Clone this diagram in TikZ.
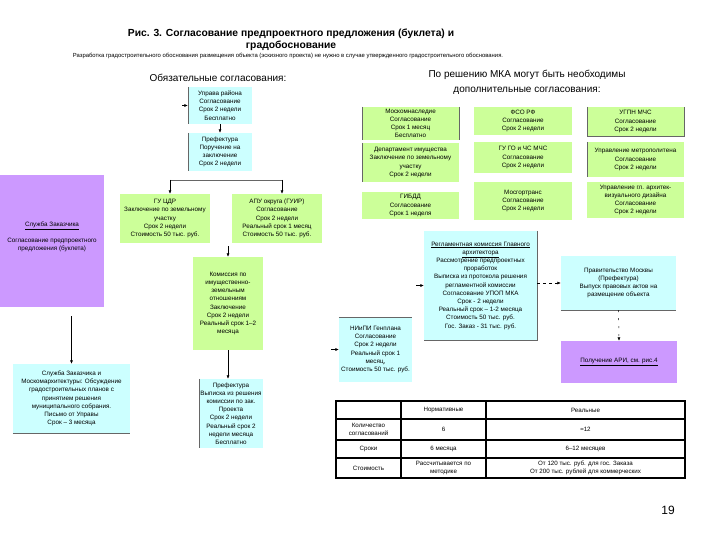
\documentclass[tikz,border=0pt]{standalone}
\usepackage{fontspec}
\setmainfont{Liberation Sans}
\usetikzlibrary{arrows.meta}
\definecolor{cy}{HTML}{CCFFFF}
\definecolor{gr}{HTML}{CCFF99}
\definecolor{pu}{HTML}{CC99FF}
\begin{document}
\begin{tikzpicture}[x=1pt,y=-1pt,
  box/.style={inner sep=1pt, align=center, font=\fontsize{6.3}{8.2}\selectfont},
  cbox/.style={box, fill=cy},
  gbox/.style={box, fill=gr},
  pbox/.style={box, fill=pu},
  arr/.style={-{Latex[length=3.5pt,width=3pt]}, line width=0.5pt},
  edge/.style={draw=black!60, line width=0.6pt},
  lbl/.style={inner sep=0pt, align=center},
  cell/.style={inner sep=0pt, align=center, font=\fontsize{6.2}{7.6}\selectfont}]
\useasboundingbox (0,0) rectangle (720,540);
\fill[white] (0,0) rectangle (720,540);

% titles
\node[lbl, font=\fontsize{10.3}{12}\bfseries] (t1) at (291,34) {Рис. 3. Согласование предпроектного предложения (буклета) и};
\node[lbl, font=\fontsize{10.3}{12}\bfseries] (t2) at (291,46) {градобоснование};
\node[lbl, font=\fontsize{5.9}{7}\selectfont] (t3) at (288,56) {Разработка градостроительного обоснования размещения объекта (эскизного проекта) не нужно в случае утвержденного градостроительного обоснования.};
\node[lbl, font=\fontsize{10}{11}\selectfont] (ob) at (218,78) {Обязательные согласования:};
\node[lbl, font=\fontsize{10}{14.5}\selectfont] (po) at (527,82.5) {По решению МКА могут быть необходимы\\дополнительные согласования:};
\node[lbl, font=\fontsize{12}{14}\selectfont] (pg) at (668,510) {19};

% left chain
\node[cbox, minimum width=64, minimum height=37] (A) at (220,105.5) {Управа района\\Согласование\\Срок 2 недели\\Бесплатно};
\node[cbox, minimum width=64, minimum height=38] (B) at (220,152) {Префектура\\Поручение на\\заключение\\Срок 2 недели};
\node[gbox, minimum width=90, minimum height=49] (C) at (165,218.5) {ГУ ЦДР\\Заключение по земельному\\участку\\Срок 2 недели\\Стоимость 50 тыс. руб.};
\node[gbox, minimum width=90, minimum height=49] (D) at (277,218.5) {АПУ округа (ГУИР)\\Согласование\\Срок 2 недели\\Реальный срок 1 месяц\\Стоимость 50 тыс. руб.};
\node[gbox, minimum width=70, minimum height=93] (E) at (228,303.5) {Комиссия по\\имущественно-\\земельным\\отношениям\\Заключение\\Срок 2 недели\\Реальный срок 1–2\\месяца};
\node[cbox, minimum width=62, minimum height=69] (F) at (231,413.5) {Префектура\\Выписка из решения\\комиссии по зак.\\Проекта\\Срок 2 недели\\Реальный срок 2\\недели месяца\\Бесплатно};

\node[pbox, minimum width=104, minimum height=132] (P) at (52,241) {};
\node[box] (Pt) at (52,237) {\underline{Служба Заказчика}\\[8pt]Согласование предпроектного\\предложения (буклета)};
\node[cbox, minimum width=117, minimum height=69] (G) at (71.5,398.5) {Служба Заказчика и\\Москомархитектуры: Обсуждение\\градостроительных планов с\\принятием решения\\муниципального собрания.\\Письмо от Управы\\Срок – 3 месяца};

% right grid
\node[gbox, minimum width=97, minimum height=33] (R11) at (410.5,123.5) {Москомнаследие\\Согласование\\Срок 1 месяц\\Бесплатно};
\node[gbox, minimum width=98, minimum height=28] (R12) at (523,121) {ФСО РФ\\Согласование\\Срок 2 недели};
\node[gbox, minimum width=97, minimum height=29] (R13) at (635.5,121.5) {УГПН МЧС\\Согласование\\Срок 2 недели};
\node[gbox, minimum width=97, minimum height=39] (R21) at (410.5,162.5) {Департамент имущества\\Заключение по земельному\\участку\\Срок 2 недели};
\node[gbox, minimum width=98, minimum height=31] (R22) at (523,157.5) {ГУ ГО и ЧС МЧС\\Согласование\\Срок 2 недели};
\node[gbox, minimum width=97, minimum height=35] (R23) at (635.5,159.5) {Управление метрополитена\\Согласование\\Срок 2 недели};
\node[gbox, minimum width=97, minimum height=27] (R31) at (410.5,205.5) {ГИБДД\\Согласование\\Срок 1 неделя};
\node[gbox, minimum width=98, minimum height=38] (R32) at (523,201) {Мосгортранс\\Согласование\\Срок 2 недели};
\node[gbox, minimum width=97, minimum height=36] (R33) at (635.5,200) {Управление гл. архитек-\\визуального дизайна\\Согласование\\Срок 2 недели};

\node[cbox, minimum width=113, minimum height=109] (H) at (480.5,285.5) {\underline{Регламентная комиссия Главного}\\\underline{архитектора}\\Рассмотрение предпроектных\\проработок\\Выписка из протокола решения\\регламентной комиссии\\Согласование УПОП МКА\\Срок - 2 недели\\Реальный срок – 1-2 месяца\\Стоимость 50 тыс. руб.\\Гос. Заказ - 31 тыс. руб.};
\node[cbox, minimum width=115, minimum height=54] (I) at (618.5,283) {Правительство Москвы\\(Префектура)\\Выпуск правовых актов на\\размещение объекта};
\node[pbox, minimum width=116, minimum height=42] (J) at (619,362) {\underline{Получение АРИ, см. рис.4}};
\node[cbox, minimum width=73, minimum height=65] (K) at (375.5,349.5) {НИиПИ Генплана\\Согласование\\Срок 2 недели\\Реальный срок 1\\месяц,\\Стоимость 50 тыс. руб.};

% dark edges
\draw[edge] (A.north west) -- (A.south west);
\draw[edge] (B.north west) -- (B.south west);
\draw[edge] (F.north west) -- (F.south west);
\draw[edge] (G.south west) -- (G.south east);
\draw[edge] (I.south west) -- (I.south east);
\draw[edge] (K.north west) -- (K.north east);
\draw[edge] (H.north east) -- (H.south east) -- (H.south west);
\draw[edge] (R11.north west) -- (R11.south west);
\draw[edge] (R11.north east) -- (R11.south east);
\draw[edge] (R21.north west) -- (R21.south west);
\draw[edge] (R13.north west) -- (R13.south west) -- (R13.south east) -- (R13.north east);
\draw[edge] (R23.north west) -- (R23.south west);

% connectors
\coordinate (a0) at (182,105.5);
\draw[arr] (a0) -- (A.west);
\draw[arr] (A) -- (B);
\coordinate (h1) at (170,180);
\coordinate (h2) at (282,180);
\draw[black!60, line width=0.6pt] (h1) -- (h2);
\draw[arr] (h1) -- (h1 |- C.north);
\draw[arr] (h2) -- (h2 |- D.north);
\coordinate (e0) at (228,246);
\draw[arr] (e0) -- (E.north);
\draw[arr] (E.south) -- (E.south |- F.north);
\coordinate (p0) at (71.5,316);
\draw[arr] (p0) -- (G.north);
\coordinate (k0) at (331,349.5);
\draw[arr] (k0) -- (K.west);
\coordinate (hh) at (416,285.5);
\draw[arr] (hh) -- (H.west);
\draw[arr, dash pattern=on 3pt off 3pt] (H.east |- I.west) -- (I.west);
\draw[arr, dash pattern=on 2pt off 6pt] (I.south) -- (J.north);

% table
\coordinate (T0) at (336,401);
\coordinate (T1) at (685,478);
\draw[line width=1.2pt, line join=miter] (T0) rectangle (T1);
\foreach \yy in {419,440,458} \draw[line width=1.2pt] (336,\yy) -- (685,\yy);
\foreach \xx in {401,486} \draw[line width=1.2pt] (\xx,401) -- (\xx,478);
\node[cell] (c12) at (443.5,410) {Нормативные};
\node[cell] (c13) at (585.5,410) {Реальные};
\node[cell] (c21) at (368.5,429.5) {Количество\\согласований};
\node[cell] (c22) at (443.5,429.5) {6};
\node[cell] (c23) at (585.5,429.5) {≈12};
\node[cell] (c31) at (368.5,449) {Сроки};
\node[cell] (c32) at (443.5,449) {6 месяца};
\node[cell] (c33) at (585.5,449) {6–12 месяцев};
\node[cell] (c41) at (368.5,468) {Стоимость};
\node[cell] (c42) at (443.5,468) {Рассчитывается по\\методике};
\node[cell] (c43) at (585.5,468) {От 120 тыс. руб. для гос. Заказа\\От 200 тыс. рублей для коммерческих};
\end{tikzpicture}
\end{document}
